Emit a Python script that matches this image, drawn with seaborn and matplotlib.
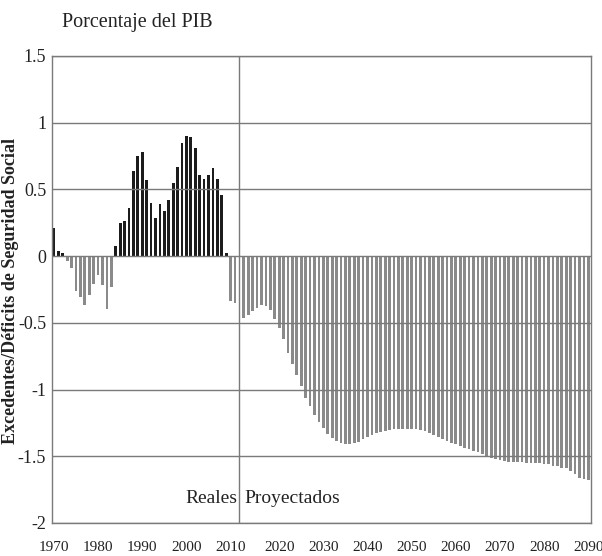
import numpy as np
import pandas as pd
import matplotlib
matplotlib.use("Agg")
import matplotlib.pyplot as plt
import seaborn as sns

# ---- data -------------------------------------------------------------
hist_years = list(range(1970, 2012))
hist_values = [0.21, 0.035, 0.025, -0.04, -0.09, -0.26, -0.31, -0.37, -0.29, -0.21,
               -0.14, -0.22, -0.40, -0.235, 0.075, 0.25, 0.265, 0.36, 0.64, 0.75,
               0.78, 0.57, 0.40, 0.285, 0.39, 0.335, 0.42, 0.55, 0.67, 0.85,
               0.90, 0.89, 0.81, 0.61, 0.58, 0.61, 0.66, 0.58, 0.46, 0.025,
               -0.337, -0.35]

proj_years = list(range(2012, 2091))
proj_values = [-0.465, -0.443, -0.41, -0.387, -0.367, -0.374, -0.406, -0.473, -0.535, -0.62,
               -0.724, -0.805, -0.89, -0.97, -1.06, -1.12, -1.19, -1.244, -1.29, -1.335,
               -1.36, -1.384, -1.397, -1.41, -1.41, -1.404, -1.39, -1.37, -1.355, -1.34,
               -1.328, -1.315, -1.31, -1.303, -1.298, -1.295, -1.295, -1.295, -1.295, -1.298,
               -1.303, -1.31, -1.325, -1.34, -1.355, -1.37, -1.385, -1.40, -1.41, -1.42,
               -1.435, -1.445, -1.46, -1.47, -1.485, -1.495, -1.51, -1.52, -1.53, -1.535,
               -1.54, -1.54, -1.545, -1.545, -1.548, -1.55, -1.55, -1.552, -1.555, -1.56,
               -1.57, -1.575, -1.585, -1.59, -1.61, -1.635, -1.665, -1.67, -1.68]

decade_labels = [str(y) for y in range(1970, 2091, 10)]
y_ticks = [1.5, 1, 0.5, 0, -0.5, -1, -1.5, -2]
y_tick_labels = ["1.5", "1", "0.5", "0", "-0.5", "-1", "-1.5", "-2"]

title_text = "Porcentaje del PIB"
ylabel_text = "Excedentes/Déficits de Seguridad Social"
label_real = "Reales"
label_proj = "Proyectados"

BLACK = "#1c1c1c"
GRAY = "#8a8a8a"
LINE = "#7a7a7a"

# ---- frame ------------------------------------------------------------
years = hist_years + proj_years
values = hist_values + proj_values
df = pd.DataFrame({"year": [str(y) for y in years], "value": values})
df["grupo"] = np.where((np.array(years) <= 2011) & (np.array(values) > 0), "pos", "neg")

GAP = "gap"
order = [str(y) for y in hist_years] + [GAP] + [str(y) for y in proj_years]
split_pos = order.index(GAP)

# ---- plot -------------------------------------------------------------
sns.set_theme(style="white")
plt.rcParams["font.family"] = ["Liberation Serif", "DejaVu Serif"]

fig = plt.figure(figsize=(6.02, 5.56), dpi=100)
ax = fig.add_axes([0.0859, 0.0594, 0.8950, 0.8399])

sns.barplot(data=df, x="year", y="value", hue="grupo", order=order,
            palette={"pos": BLACK, "neg": GRAY},
            dodge=False, width=0.62, legend=False, errorbar=None,
            saturation=1, linewidth=0, ax=ax)

ax.set_xlim(-0.5, len(order) - 0.5)
ax.set_ylim(-2, 1.5)

ax.set_yticks(y_ticks)
ax.set_yticklabels(y_tick_labels, fontsize=13)
ax.set_xticks([order.index(l) for l in decade_labels])
ax.set_xticklabels(decade_labels, fontsize=11)
ax.tick_params(axis="both", length=0, colors="#222222")
ax.tick_params(axis="y", pad=4)
ax.tick_params(axis="x", pad=13)

ax.yaxis.grid(True, color=LINE, linewidth=1.0)
ax.xaxis.grid(False)
ax.set_axisbelow(False)
for sp in ax.spines.values():
    sp.set_color(LINE)
    sp.set_linewidth(1.0)

ax.axvline(split_pos, color=LINE, linewidth=1.0, zorder=3)

ax.set_xlabel("")
ax.set_ylabel("")

ax.text(split_pos - 0.4, -1.82, label_real, ha="right", va="center",
        fontsize=14, color="#222222")
ax.text(split_pos + 1.2, -1.82, label_proj, ha="left", va="center",
        fontsize=14, color="#222222")

fig.text(62 / 602, 1 - 22 / 556, title_text, ha="left", va="center",
         fontsize=14.5, color="#222222")
fig.text(11 / 602, 1 - 291 / 556, ylabel_text, ha="center", va="center",
         rotation=90, fontsize=13, fontweight="bold", color="#222222")

fig.savefig("out.png", dpi=100)
